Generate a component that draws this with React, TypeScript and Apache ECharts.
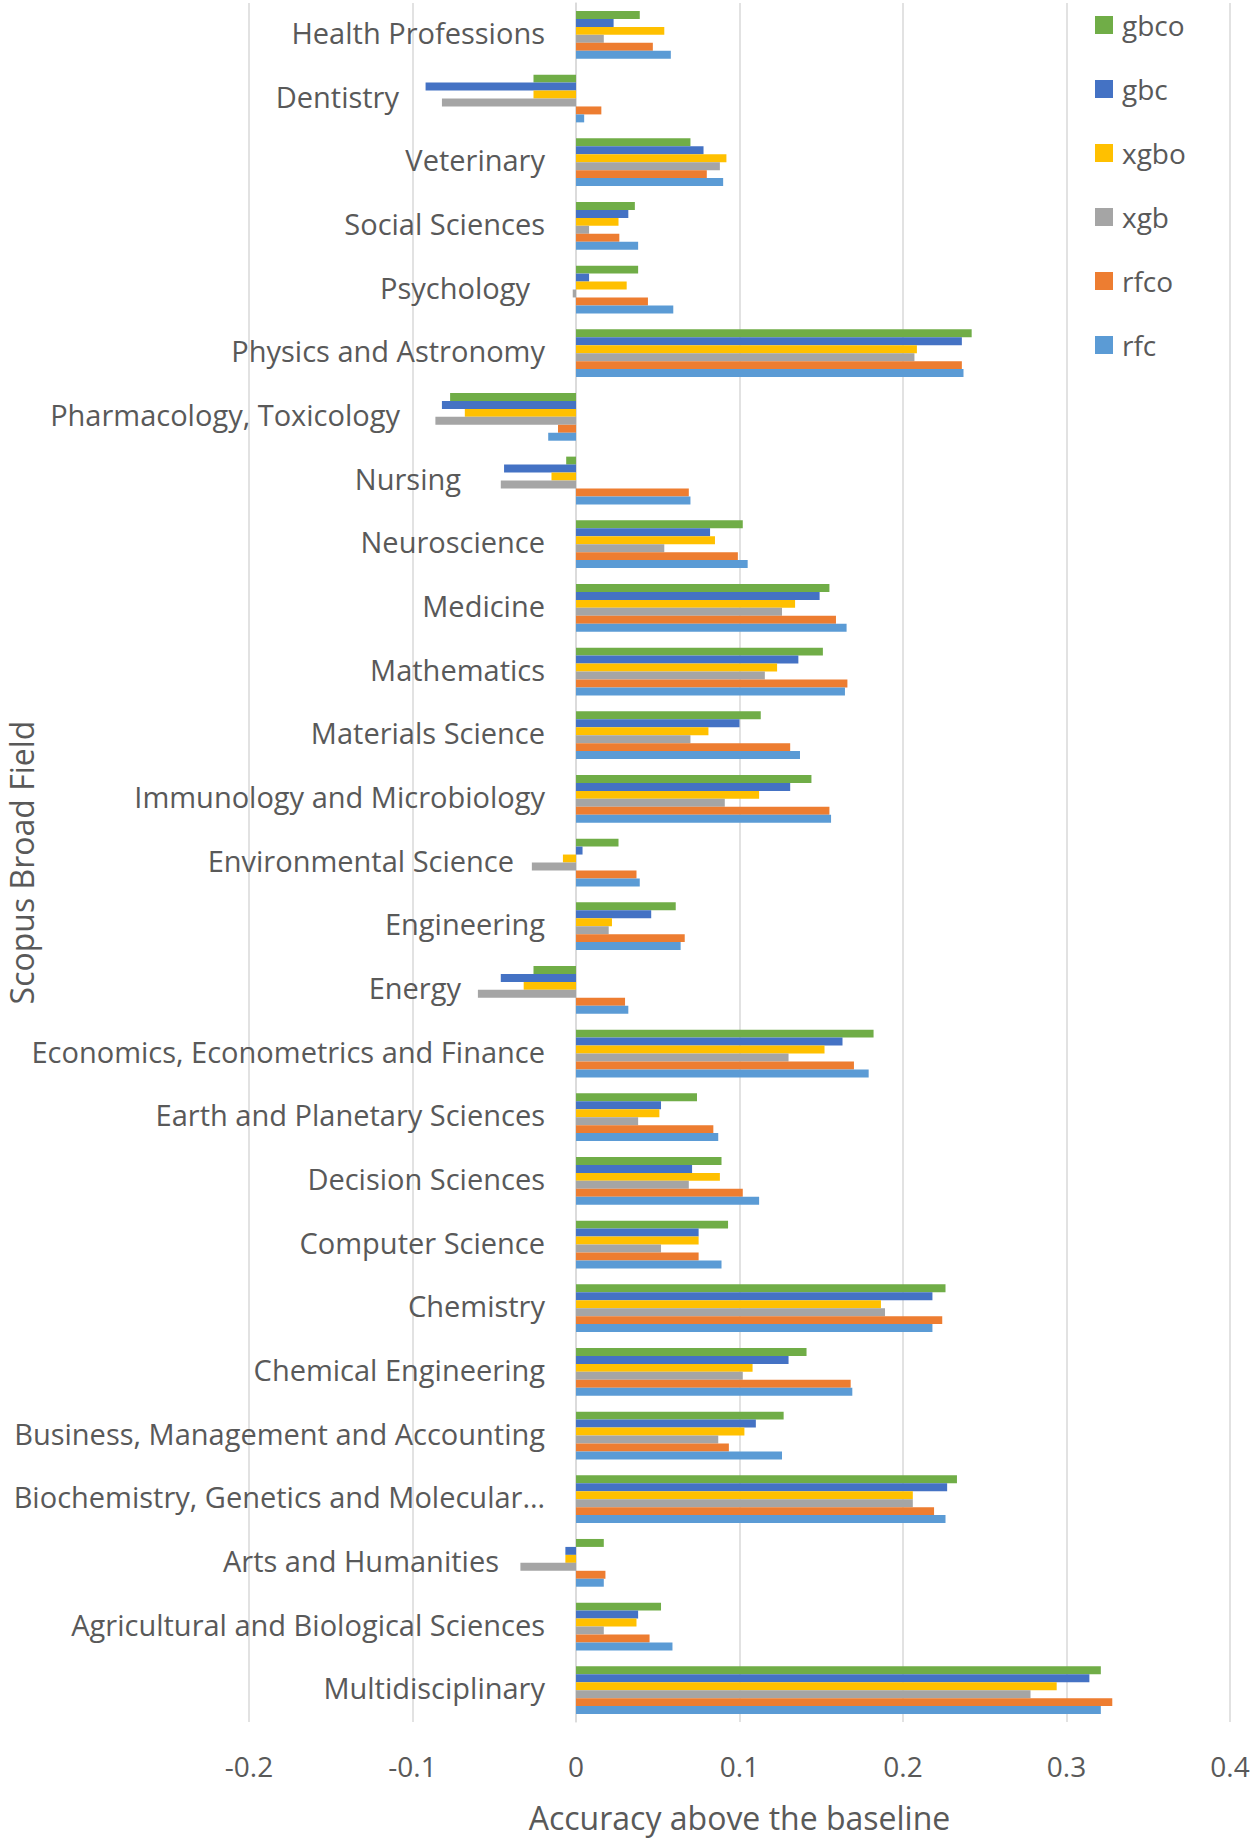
import React, { useEffect, useRef } from "react";
import * as echarts from "echarts";

// Categories listed bottom → top (as drawn on the category axis)
const categories = [
  "Multidisciplinary",
  "Agricultural and Biological Sciences",
  "Arts and Humanities",
  "Biochemistry, Genetics and Molecular…",
  "Business, Management and Accounting",
  "Chemical Engineering",
  "Chemistry",
  "Computer Science",
  "Decision Sciences",
  "Earth and Planetary Sciences",
  "Economics, Econometrics and Finance",
  "Energy",
  "Engineering",
  "Environmental Science",
  "Immunology and Microbiology",
  "Materials Science",
  "Mathematics",
  "Medicine",
  "Neuroscience",
  "Nursing",
  "Pharmacology, Toxicology",
  "Physics and Astronomy",
  "Psychology",
  "Social Sciences",
  "Veterinary",
  "Dentistry",
  "Health Professions",
];

const seriesNames = ["gbco", "gbc", "xgbo", "xgb", "rfco", "rfc"];

const gbco = [0.321, 0.052, 0.017, 0.233, 0.127, 0.141, 0.226, 0.093, 0.089, 0.074, 0.182, -0.026, 0.061, 0.026, 0.144, 0.113, 0.151, 0.155, 0.102, -0.006, -0.077, 0.242, 0.038, 0.036, 0.07, -0.026, 0.039];
const gbc = [0.314, 0.038, -0.0065, 0.227, 0.11, 0.13, 0.218, 0.075, 0.071, 0.052, 0.163, -0.046, 0.046, 0.004, 0.131, 0.1, 0.136, 0.149, 0.082, -0.044, -0.082, 0.236, 0.008, 0.032, 0.078, -0.092, 0.023];
const xgbo = [0.294, 0.037, -0.0065, 0.206, 0.103, 0.108, 0.1865, 0.075, 0.088, 0.051, 0.152, -0.032, 0.022, -0.008, 0.112, 0.081, 0.123, 0.134, 0.085, -0.015, -0.068, 0.2085, 0.031, 0.026, 0.092, -0.026, 0.054];
const xgb = [0.278, 0.017, -0.034, 0.206, 0.087, 0.102, 0.189, 0.052, 0.069, 0.038, 0.13, -0.06, 0.02, -0.027, 0.091, 0.07, 0.1155, 0.126, 0.054, -0.046, -0.086, 0.207, -0.002, 0.008, 0.088, -0.082, 0.017];
const rfco = [0.328, 0.045, 0.018, 0.219, 0.0935, 0.168, 0.224, 0.075, 0.102, 0.084, 0.17, 0.03, 0.0665, 0.037, 0.155, 0.131, 0.166, 0.159, 0.099, 0.069, -0.011, 0.236, 0.044, 0.0265, 0.08, 0.0155, 0.047];
const rfc = [0.321, 0.059, 0.017, 0.226, 0.126, 0.169, 0.218, 0.089, 0.112, 0.087, 0.179, 0.032, 0.064, 0.039, 0.156, 0.137, 0.1645, 0.1655, 0.105, 0.07, -0.017, 0.237, 0.0595, 0.038, 0.09, 0.005, 0.058];

const seriesValues = [gbco, gbc, xgbo, xgb, rfco, rfc];
const seriesColors = ["#70AD47", "#4472C4", "#FFC000", "#A5A5A5", "#ED7D31", "#5B9BD5"];

// Extra right indent (px) of some category labels, as in the reference (style only)
const labelIndent: Record<string, number> = {
  Dentistry: 146,
  "Pharmacology, Toxicology": 145,
  Nursing: 84,
  Energy: 84,
  "Environmental Science": 31,
  "Arts and Humanities": 46,
  Psychology: 15,
};

const xMin = -0.2;
const xMax = 0.4;
const xInterval = 0.1;

const TEXT = "#595959";
const FONT = "Open Sans";

export default function App() {
  const ref = useRef<HTMLDivElement>(null);

  useEffect(() => {
    if (!ref.current) return;
    const chart = echarts.init(ref.current, null, { renderer: "svg" });

    const gridLeft = 249;
    const gridRight = 23;
    const width = 1253;
    const pxPerUnit = (width - gridLeft - gridRight) / (xMax - xMin);
    const zeroOffset = (0 - xMin) * pxPerUnit; // distance of x=0 from grid left
    const labelMargin = 31;

    const rich: Record<string, any> = {};
    categories.forEach((c, i) => {
      rich["c" + i] = {
        fontSize: 29,
        fontFamily: FONT,
        color: TEXT,
        padding: [0, labelIndent[c] || 0, 5, 0],
      };
    });

    const option: any = {
      animation: false,
      backgroundColor: "#ffffff",
      textStyle: { fontFamily: FONT, color: TEXT },
      grid: {
        left: gridLeft,
        right: gridRight,
        top: 3,
        bottom: 120,
        containLabel: false,
        outerBoundsMode: "none",
      },
      legend: {
        data: seriesNames,
        orient: "vertical",
        left: 1090,
        top: 6,
        itemWidth: 18,
        itemHeight: 18,
        itemGap: 36,
        icon: "rect",
        textStyle: {
          fontSize: 28,
          lineHeight: 28,
          color: TEXT,
          fontFamily: FONT,
          padding: [0, 0, 0, 4],
        },
      },
      xAxis: {
        type: "value",
        min: xMin,
        max: xMax,
        interval: xInterval,
        name: "Accuracy above the baseline",
        nameLocation: "middle",
        nameGap: 79,
        nameMoveOverlap: false,
        nameTextStyle: { fontSize: 32, color: TEXT, fontFamily: FONT },
        axisLine: { show: false },
        axisTick: { show: false },
        axisLabel: {
          fontSize: 28,
          color: TEXT,
          fontFamily: FONT,
          margin: 30,
          formatter: (v: number) => String(Math.round(v * 10) / 10),
        },
        splitLine: { show: true, lineStyle: { color: "#D9D9D9", width: 1.5 } },
      },
      yAxis: {
        type: "category",
        data: categories,
        position: "left",
        offset: -zeroOffset,
        name: "Scopus Broad Field",
        nameLocation: "middle",
        nameGap: 539,
        nameMoveOverlap: false,
        nameTextStyle: { fontSize: 32, color: TEXT, fontFamily: FONT },
        axisLine: { show: true, onZero: false, lineStyle: { color: "#D9D9D9", width: 1.5 } },
        axisTick: { show: false },
        splitLine: { show: false },
        axisLabel: {
          interval: 0,
          margin: labelMargin,
          fontSize: 29,
          color: TEXT,
          fontFamily: FONT,
          formatter: (value: string, index: number) => `{c${index}|${value}}`,
          rich,
        },
      },
      series: seriesNames.map((name, k) => ({
        name,
        type: "bar",
        data: seriesValues[k],
        barGap: "0%",
        barCategoryGap: "25%",
        itemStyle: { color: seriesColors[k] },
        emphasis: { disabled: true },
      })),
    };

    chart.setOption(option);
    return () => chart.dispose();
  }, []);

  return (
    <div
      ref={ref}
      style={{ position: "absolute", left: 0, top: 0, width: 1253, height: 1842, background: "#fff" }}
    />
  );
}
